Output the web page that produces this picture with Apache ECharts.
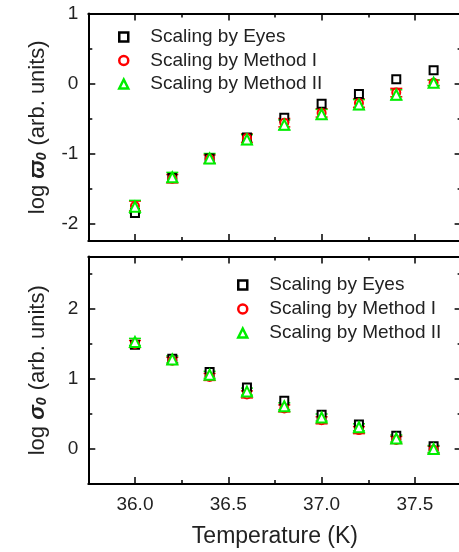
<!DOCTYPE html>
<html><head><meta charset="utf-8">
<script src="https://cdn.jsdelivr.net/npm/echarts@6/dist/echarts.min.js"></script>
<style>html,body{margin:0;padding:0;background:#fff}#c{width:459px;height:552px}</style>
</head><body><div id="c"></div>
<script>
// ---- data ----
const temps = [36.0, 36.2, 36.4, 36.6, 36.8, 37.0, 37.2, 37.4, 37.6];
const seriesNames = ['Scaling by Eyes', 'Scaling by Method I', 'Scaling by Method II'];
// top panel: log omega0
const omegaEyes = [-1.85, -1.35, -1.07, -0.77, -0.49, -0.29, -0.15, 0.06, 0.19];
const omegaM1   = [-1.75, -1.36, -1.08, -0.78, -0.56, -0.42, -0.28, -0.13, 0.01];
const omegaM2   = [-1.76, -1.34, -1.07, -0.80, -0.59, -0.44, -0.30, -0.16, 0.01];
const omegaErrM1 = [0.07, 0.06, 0.06, 0.06, 0.06, 0.06, 0.06, 0.06, 0.04];
const omegaErrM2 = [0.09, 0.07, 0.07, 0.07, 0.07, 0.07, 0.07, 0.07, 0.04];
// bottom panel: log sigma0
const sigmaEyes = [1.49, 1.29, 1.10, 0.88, 0.69, 0.49, 0.35, 0.19, 0.04];
const sigmaM1   = [1.50, 1.26, 1.03, 0.78, 0.58, 0.41, 0.27, 0.13, -0.01];
const sigmaM2   = [1.53, 1.28, 1.06, 0.82, 0.61, 0.45, 0.31, 0.15, 0.00];
const sigmaErrM1 = [0.05, 0.05, 0.05, 0.05, 0.05, 0.05, 0.05, 0.05, 0.05];
const sigmaErrM2 = [0.05, 0.05, 0.05, 0.05, 0.05, 0.05, 0.05, 0.05, 0.05];
// ticks
const xMajorTicks = [36.0, 36.5, 37.0, 37.5];
const xMinorTicks = [36.25, 36.75, 37.25];
const yTopMajorTicks = [-2, -1, 0, 1];
const yTopMinorTicks = [-1.5, -0.5, 0.5];
const yBotMajorTicks = [0, 1, 2];
const yBotMinorTicks = [0.5, 1.5, 2.5];

const FONT = '"Liberation Sans", Arial, sans-serif';
const TXT = '#222';
const chart = echarts.init(document.getElementById('c'), null, {renderer: 'canvas'});

const X0 = 88.3, W = 373.3, H = 227.5;
const grids = [
  {left: X0, top: 13.5, width: W, height: H, outerBoundsMode: 'none', containLabel: false},
  {left: X0, top: 256.5, width: W, height: H, outerBoundsMode: 'none', containLabel: false}
];

function axis(gridIndex, position, min, max, tickVals, tickLen, showLine, labelVals, fmt, extra) {
  return Object.assign({
    type: 'value', gridIndex: gridIndex, position: position, min: min, max: max,
    axisLine: {show: showLine, onZero: false, lineStyle: {color: '#000', width: 2}},
    axisTick: {show: true, inside: true, length: tickLen, customValues: tickVals,
               lineStyle: {color: '#000', width: 1.5}},
    axisLabel: labelVals ? {show: true, customValues: labelVals, margin: 11, fontSize: 19,
               color: TXT, fontFamily: FONT, formatter: fmt} : {show: false},
    splitLine: {show: false}, minorTick: {show: false}
  }, extra || {});
}

const xRange = [35.75, 37.75];
const yRanges = [[-2.25, 1], [-0.5, 2.75]];
const yMaj = [yTopMajorTicks, yBotMajorTicks];
const yMin = [yTopMinorTicks, yBotMinorTicks];

const xAxes = [], yAxes = [];
for (let g = 0; g < 2; g++) {
  const xl = g === 1 ? xMajorTicks : null;
  xAxes.push(axis(g, 'bottom', xRange[0], xRange[1], xMajorTicks, 7, true, xl, v => v.toFixed(1),
    g === 1 ? {name: 'Temperature (K)', nameLocation: 'middle', nameGap: 41,
      nameTextStyle: {fontSize: 23, color: TXT, fontFamily: FONT}} : {}));
  xAxes.push(axis(g, 'bottom', xRange[0], xRange[1], xMinorTicks, 4, false, null));
  xAxes.push(axis(g, 'top', xRange[0], xRange[1], xMajorTicks, 7, true, null));
  xAxes.push(axis(g, 'top', xRange[0], xRange[1], xMinorTicks, 4, false, null));

  const sym = g === 0 ? 'ϖ' : 'σ';
  yAxes.push(axis(g, 'left', yRanges[g][0], yRanges[g][1], yMaj[g], 7, true, yMaj[g], v => String(v), {
    name: '{a|log }{w|' + sym + '}{s|0}{a| (arb. units)}',
    nameLocation: 'middle', nameGap: 39, nameRotate: 90,
    axisLabel: {show: true, customValues: yMaj[g], margin: 10, fontSize: 19, color: TXT,
                fontFamily: FONT, formatter: v => String(v)},
    nameTextStyle: {fontSize: 22, color: TXT, fontFamily: FONT, rich: {
      a: {fontSize: 22, color: TXT, fontFamily: FONT},
      w: {fontSize: 22, color: TXT, fontFamily: FONT, fontWeight: 'bold', fontStyle: 'italic'},
      s: {fontSize: 14, color: TXT, fontFamily: FONT, fontWeight: 'bold', fontStyle: 'italic',
          verticalAlign: 'bottom', padding: [8, 1, 0, 0]}
    }}
  }));
  yAxes.push(axis(g, 'left', yRanges[g][0], yRanges[g][1], yMin[g], 4, false, null));
  yAxes.push(axis(g, 'right', yRanges[g][0], yRanges[g][1], yMaj[g], 7, true, null));
  yAxes.push(axis(g, 'right', yRanges[g][0], yRanges[g][1], yMin[g], 4, false, null));
}

function scatter(name, vals, g, symbol, size, color) {
  return {type: 'scatter', name: name, xAxisIndex: g * 4, yAxisIndex: g * 4,
    symbol: symbol, symbolSize: size, data: temps.map((t, i) => [t, vals[i]]),
    itemStyle: {color: '#fff', borderColor: color, borderWidth: 2, opacity: 1},
    emphasis: {disabled: true}, silent: true};
}
function errBars(name, vals, errs, g, color) {
  return {type: 'custom', name: name, xAxisIndex: g * 4, yAxisIndex: g * 4,
    data: temps.map((t, i) => [t, vals[i], errs[i]]), encode: {x: 0, y: 1}, silent: true,
    renderItem: function (p, api) {
      const x = api.value(0), y = api.value(1), e = api.value(2);
      const a = api.coord([x, y + e]), b = api.coord([x, y - e]);
      const hw = 6, st = {stroke: color, lineWidth: 1.5};
      return {type: 'group', children: [
        {type: 'line', shape: {x1: a[0], y1: a[1], x2: b[0], y2: b[1]}, style: st},
        {type: 'line', shape: {x1: a[0] - hw, y1: a[1], x2: a[0] + hw, y2: a[1]}, style: st},
        {type: 'line', shape: {x1: b[0] - hw, y1: b[1], x2: b[0] + hw, y2: b[1]}, style: st}
      ]};
    }};
}

const RED = '#ff0000', GREEN = '#00ee00';
const series = [
  scatter(seriesNames[0], omegaEyes, 0, 'rect', 8, '#000'),
  errBars('errI0', omegaM1, omegaErrM1, 0, RED),
  scatter(seriesNames[1], omegaM1, 0, 'circle', 8, RED),
  errBars('errII0', omegaM2, omegaErrM2, 0, GREEN),
  scatter(seriesNames[2], omegaM2, 0, 'triangle', 10, GREEN),
  scatter(seriesNames[0], sigmaEyes, 1, 'rect', 8, '#000'),
  errBars('errI1', sigmaM1, sigmaErrM1, 1, RED),
  scatter(seriesNames[1], sigmaM1, 1, 'circle', 8, RED),
  errBars('errII1', sigmaM2, sigmaErrM2, 1, GREEN),
  scatter(seriesNames[2], sigmaM2, 1, 'triangle', 10, GREEN)
];

function legend(left, top, gap) {
  return {data: seriesNames, left: left, top: top, orient: 'vertical', itemGap: gap,
    itemWidth: 9, itemHeight: 9, selectedMode: false,
    itemStyle: {borderWidth: 2.5},
    textStyle: {fontSize: 19, color: TXT, fontFamily: FONT, padding: [0, 0, 0, 17]}};
}

chart.setOption({
  animation: false,
  backgroundColor: '#fff',
  grid: grids,
  xAxis: xAxes,
  yAxis: yAxes,
  legend: [legend(113, 22.5, 4.5), legend(232, 270.5, 5)],
  series: series
});
</script>
</body></html>
